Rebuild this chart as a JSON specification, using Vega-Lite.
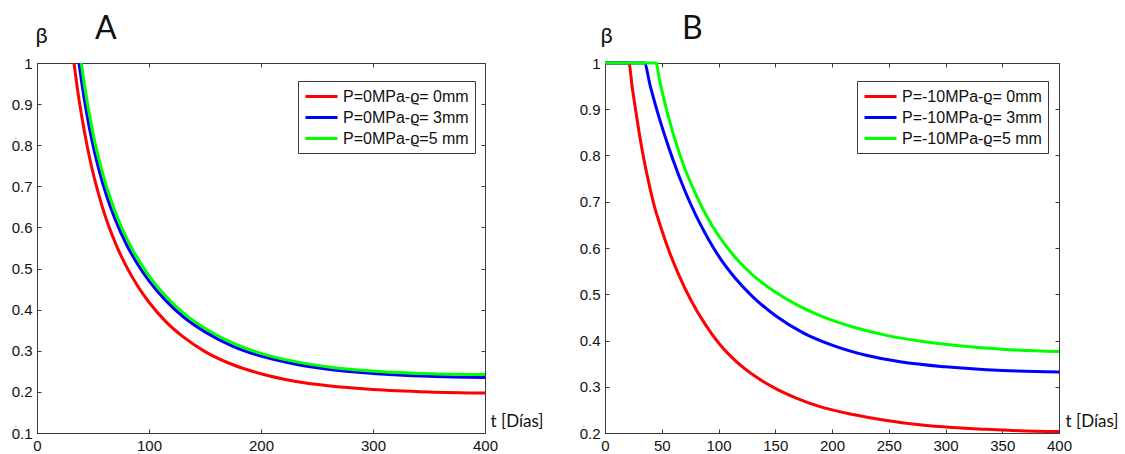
{
  "$schema": "https://vega.github.io/schema/vega-lite/v6.json",
  "background": "white",
  "padding": {"left": 10, "top": 12, "right": 2, "bottom": 2},
  "config": {
    "font": "Liberation Sans",
    "view": {"stroke": "#3a3a3a", "strokeWidth": 1},
    "axis": {"grid": false, "domain": false, "tickColor": "#3a3a3a", "tickSize": -4, "labelPadding": 9, "labelFontSize": 15, "labelFont": "Liberation Sans", "labelColor": "#111111", "labelFlush": false, "labelOverlap": false, "titleFont": "Lato", "titleFontWeight": "normal", "titleColor": "#111111"},
    "legend": {"orient": "none", "strokeColor": "#3a3a3a", "fillColor": "white", "padding": 6, "symbolType": "M-2,0H2", "symbolStrokeWidth": 3, "symbolSize": 256, "symbolOffset": 8, "labelFontSize": 16, "labelFont": "Liberation Sans", "labelColor": "#111111", "rowPadding": 3, "labelOffset": 12, "cornerRadius": 0},
    "title": {"font": "Lato", "fontWeight": "normal", "fontSize": 32, "color": "#111111", "anchor": "start", "frame": "group"}
  },
  "datasets": {
    "A": [
      {"s": "P=0MPa-ϱ= 0mm", "t": 33, "b": 1},
      {"s": "P=0MPa-ϱ= 0mm", "t": 36, "b": 0.939},
      {"s": "P=0MPa-ϱ= 0mm", "t": 40, "b": 0.869},
      {"s": "P=0MPa-ϱ= 0mm", "t": 45, "b": 0.795},
      {"s": "P=0MPa-ϱ= 0mm", "t": 50, "b": 0.733},
      {"s": "P=0MPa-ϱ= 0mm", "t": 55, "b": 0.681},
      {"s": "P=0MPa-ϱ= 0mm", "t": 60, "b": 0.635},
      {"s": "P=0MPa-ϱ= 0mm", "t": 70, "b": 0.562},
      {"s": "P=0MPa-ϱ= 0mm", "t": 80, "b": 0.504},
      {"s": "P=0MPa-ϱ= 0mm", "t": 90, "b": 0.457},
      {"s": "P=0MPa-ϱ= 0mm", "t": 100, "b": 0.418},
      {"s": "P=0MPa-ϱ= 0mm", "t": 115, "b": 0.371},
      {"s": "P=0MPa-ϱ= 0mm", "t": 130, "b": 0.335},
      {"s": "P=0MPa-ϱ= 0mm", "t": 150, "b": 0.298},
      {"s": "P=0MPa-ϱ= 0mm", "t": 175, "b": 0.266},
      {"s": "P=0MPa-ϱ= 0mm", "t": 200, "b": 0.244},
      {"s": "P=0MPa-ϱ= 0mm", "t": 230, "b": 0.226},
      {"s": "P=0MPa-ϱ= 0mm", "t": 260, "b": 0.215},
      {"s": "P=0MPa-ϱ= 0mm", "t": 300, "b": 0.206},
      {"s": "P=0MPa-ϱ= 0mm", "t": 350, "b": 0.2},
      {"s": "P=0MPa-ϱ= 0mm", "t": 400, "b": 0.197},
      {"s": "P=0MPa-ϱ= 3mm", "t": 37.5, "b": 1},
      {"s": "P=0MPa-ϱ= 3mm", "t": 40, "b": 0.951},
      {"s": "P=0MPa-ϱ= 3mm", "t": 44, "b": 0.883},
      {"s": "P=0MPa-ϱ= 3mm", "t": 49, "b": 0.812},
      {"s": "P=0MPa-ϱ= 3mm", "t": 55, "b": 0.743},
      {"s": "P=0MPa-ϱ= 3mm", "t": 62, "b": 0.678},
      {"s": "P=0MPa-ϱ= 3mm", "t": 70, "b": 0.618},
      {"s": "P=0MPa-ϱ= 3mm", "t": 80, "b": 0.558},
      {"s": "P=0MPa-ϱ= 3mm", "t": 90, "b": 0.51},
      {"s": "P=0MPa-ϱ= 3mm", "t": 100, "b": 0.47},
      {"s": "P=0MPa-ϱ= 3mm", "t": 115, "b": 0.422},
      {"s": "P=0MPa-ϱ= 3mm", "t": 130, "b": 0.384},
      {"s": "P=0MPa-ϱ= 3mm", "t": 150, "b": 0.346},
      {"s": "P=0MPa-ϱ= 3mm", "t": 175, "b": 0.311},
      {"s": "P=0MPa-ϱ= 3mm", "t": 200, "b": 0.287},
      {"s": "P=0MPa-ϱ= 3mm", "t": 230, "b": 0.268},
      {"s": "P=0MPa-ϱ= 3mm", "t": 260, "b": 0.255},
      {"s": "P=0MPa-ϱ= 3mm", "t": 300, "b": 0.245},
      {"s": "P=0MPa-ϱ= 3mm", "t": 350, "b": 0.238},
      {"s": "P=0MPa-ϱ= 3mm", "t": 400, "b": 0.235},
      {"s": "P=0MPa-ϱ=5 mm", "t": 39.5, "b": 1},
      {"s": "P=0MPa-ϱ=5 mm", "t": 42, "b": 0.953},
      {"s": "P=0MPa-ϱ=5 mm", "t": 46, "b": 0.887},
      {"s": "P=0MPa-ϱ=5 mm", "t": 51, "b": 0.816},
      {"s": "P=0MPa-ϱ=5 mm", "t": 57, "b": 0.748},
      {"s": "P=0MPa-ϱ=5 mm", "t": 64, "b": 0.683},
      {"s": "P=0MPa-ϱ=5 mm", "t": 72, "b": 0.623},
      {"s": "P=0MPa-ϱ=5 mm", "t": 82, "b": 0.563},
      {"s": "P=0MPa-ϱ=5 mm", "t": 92, "b": 0.515},
      {"s": "P=0MPa-ϱ=5 mm", "t": 102, "b": 0.475},
      {"s": "P=0MPa-ϱ=5 mm", "t": 117, "b": 0.427},
      {"s": "P=0MPa-ϱ=5 mm", "t": 132, "b": 0.389},
      {"s": "P=0MPa-ϱ=5 mm", "t": 152, "b": 0.351},
      {"s": "P=0MPa-ϱ=5 mm", "t": 177, "b": 0.316},
      {"s": "P=0MPa-ϱ=5 mm", "t": 202, "b": 0.292},
      {"s": "P=0MPa-ϱ=5 mm", "t": 232, "b": 0.273},
      {"s": "P=0MPa-ϱ=5 mm", "t": 262, "b": 0.26},
      {"s": "P=0MPa-ϱ=5 mm", "t": 302, "b": 0.25},
      {"s": "P=0MPa-ϱ=5 mm", "t": 352, "b": 0.244},
      {"s": "P=0MPa-ϱ=5 mm", "t": 400, "b": 0.242}
    ],
    "B": [
      {"s": "P=-10MPa-ϱ= 0mm", "t": 0, "b": 1},
      {"s": "P=-10MPa-ϱ= 0mm", "t": 21, "b": 1},
      {"s": "P=-10MPa-ϱ= 0mm", "t": 24, "b": 0.947},
      {"s": "P=-10MPa-ϱ= 0mm", "t": 27, "b": 0.898},
      {"s": "P=-10MPa-ϱ= 0mm", "t": 30, "b": 0.851},
      {"s": "P=-10MPa-ϱ= 0mm", "t": 34, "b": 0.795},
      {"s": "P=-10MPa-ϱ= 0mm", "t": 38.5, "b": 0.742},
      {"s": "P=-10MPa-ϱ= 0mm", "t": 43.3, "b": 0.692},
      {"s": "P=-10MPa-ϱ= 0mm", "t": 50, "b": 0.639},
      {"s": "P=-10MPa-ϱ= 0mm", "t": 56.5, "b": 0.593},
      {"s": "P=-10MPa-ϱ= 0mm", "t": 65, "b": 0.542},
      {"s": "P=-10MPa-ϱ= 0mm", "t": 75.5, "b": 0.488},
      {"s": "P=-10MPa-ϱ= 0mm", "t": 88, "b": 0.436},
      {"s": "P=-10MPa-ϱ= 0mm", "t": 101, "b": 0.392},
      {"s": "P=-10MPa-ϱ= 0mm", "t": 116, "b": 0.354},
      {"s": "P=-10MPa-ϱ= 0mm", "t": 133, "b": 0.3215},
      {"s": "P=-10MPa-ϱ= 0mm", "t": 150, "b": 0.2965},
      {"s": "P=-10MPa-ϱ= 0mm", "t": 168, "b": 0.276},
      {"s": "P=-10MPa-ϱ= 0mm", "t": 188, "b": 0.258},
      {"s": "P=-10MPa-ϱ= 0mm", "t": 218.6, "b": 0.24},
      {"s": "P=-10MPa-ϱ= 0mm", "t": 248, "b": 0.227},
      {"s": "P=-10MPa-ϱ= 0mm", "t": 277, "b": 0.218},
      {"s": "P=-10MPa-ϱ= 0mm", "t": 306, "b": 0.212},
      {"s": "P=-10MPa-ϱ= 0mm", "t": 336, "b": 0.208},
      {"s": "P=-10MPa-ϱ= 0mm", "t": 365, "b": 0.205},
      {"s": "P=-10MPa-ϱ= 0mm", "t": 400, "b": 0.203},
      {"s": "P=-10MPa-ϱ= 3mm", "t": 0, "b": 1},
      {"s": "P=-10MPa-ϱ= 3mm", "t": 34.6, "b": 1},
      {"s": "P=-10MPa-ϱ= 3mm", "t": 40, "b": 0.949},
      {"s": "P=-10MPa-ϱ= 3mm", "t": 46, "b": 0.896},
      {"s": "P=-10MPa-ϱ= 3mm", "t": 52, "b": 0.848},
      {"s": "P=-10MPa-ϱ= 3mm", "t": 60, "b": 0.79},
      {"s": "P=-10MPa-ϱ= 3mm", "t": 70, "b": 0.726},
      {"s": "P=-10MPa-ϱ= 3mm", "t": 80, "b": 0.671},
      {"s": "P=-10MPa-ϱ= 3mm", "t": 90, "b": 0.624},
      {"s": "P=-10MPa-ϱ= 3mm", "t": 100, "b": 0.583},
      {"s": "P=-10MPa-ϱ= 3mm", "t": 115, "b": 0.534},
      {"s": "P=-10MPa-ϱ= 3mm", "t": 130, "b": 0.495},
      {"s": "P=-10MPa-ϱ= 3mm", "t": 150, "b": 0.454},
      {"s": "P=-10MPa-ϱ= 3mm", "t": 175, "b": 0.416},
      {"s": "P=-10MPa-ϱ= 3mm", "t": 200, "b": 0.39},
      {"s": "P=-10MPa-ϱ= 3mm", "t": 230, "b": 0.368},
      {"s": "P=-10MPa-ϱ= 3mm", "t": 260, "b": 0.354},
      {"s": "P=-10MPa-ϱ= 3mm", "t": 300, "b": 0.343},
      {"s": "P=-10MPa-ϱ= 3mm", "t": 350, "b": 0.335},
      {"s": "P=-10MPa-ϱ= 3mm", "t": 400, "b": 0.332},
      {"s": "P=-10MPa-ϱ=5 mm", "t": 0, "b": 1},
      {"s": "P=-10MPa-ϱ=5 mm", "t": 45, "b": 1},
      {"s": "P=-10MPa-ϱ=5 mm", "t": 48, "b": 0.964},
      {"s": "P=-10MPa-ϱ=5 mm", "t": 52, "b": 0.921},
      {"s": "P=-10MPa-ϱ=5 mm", "t": 57, "b": 0.874},
      {"s": "P=-10MPa-ϱ=5 mm", "t": 63, "b": 0.824},
      {"s": "P=-10MPa-ϱ=5 mm", "t": 70, "b": 0.774},
      {"s": "P=-10MPa-ϱ=5 mm", "t": 80, "b": 0.716},
      {"s": "P=-10MPa-ϱ=5 mm", "t": 90, "b": 0.667},
      {"s": "P=-10MPa-ϱ=5 mm", "t": 100, "b": 0.627},
      {"s": "P=-10MPa-ϱ=5 mm", "t": 115, "b": 0.579},
      {"s": "P=-10MPa-ϱ=5 mm", "t": 130, "b": 0.542},
      {"s": "P=-10MPa-ϱ=5 mm", "t": 150, "b": 0.505},
      {"s": "P=-10MPa-ϱ=5 mm", "t": 170, "b": 0.476},
      {"s": "P=-10MPa-ϱ=5 mm", "t": 190, "b": 0.453},
      {"s": "P=-10MPa-ϱ=5 mm", "t": 220, "b": 0.428},
      {"s": "P=-10MPa-ϱ=5 mm", "t": 250, "b": 0.41},
      {"s": "P=-10MPa-ϱ=5 mm", "t": 280, "b": 0.398},
      {"s": "P=-10MPa-ϱ=5 mm", "t": 310, "b": 0.389},
      {"s": "P=-10MPa-ϱ=5 mm", "t": 350, "b": 0.381},
      {"s": "P=-10MPa-ϱ=5 mm", "t": 400, "b": 0.376}
    ]
  },
  "spacing": 120,
  "bounds": "flush",
  "resolve": {"scale": {"color": "independent"}, "legend": {"color": "independent"}},
  "hconcat": [
    {
      "width": 448,
      "height": 370,
      "title": {"text": "A", "dx": 58, "dy": 47, "baseline": "alphabetic", "offset": 0},
      "data": {"name": "A"},
      "resolve": {"axis": {"x": "independent", "y": "independent"}},
      "layer": [
        {
          "mark": {"type": "line", "strokeWidth": 3, "interpolate": "monotone", "clip": false},
          "encoding": {
            "x": {"field": "t", "type": "quantitative", "scale": {"domain": [0, 400], "nice": false, "zero": false},
                  "axis": {"values": [0, 100, 200, 300, 400], "title": "t [Días]", "titleFontSize": 17, "titleAngle": 0, "titleAlign": "left", "titleBaseline": "alphabetic", "titleX": 453, "titleY": -7}},
            "y": {"field": "b", "type": "quantitative", "scale": {"domain": [0.1, 1], "nice": false, "zero": false},
                  "axis": {"values": [0.1, 0.2, 0.3, 0.4, 0.5, 0.6, 0.7, 0.8, 0.9, 1], "format": "~g", "title": "β", "titleFontSize": 22, "titleAngle": 0, "titleAlign": "center", "titleBaseline": "alphabetic", "titleX": 4, "titleY": -21}},
            "color": {"field": "s", "type": "nominal", "scale": {"domain": ["P=0MPa-ϱ= 0mm", "P=0MPa-ϱ= 3mm", "P=0MPa-ϱ=5 mm"], "range": ["#ff0000", "#0000ff", "#00ff00"]},
                      "legend": {"title": null, "legendX": 261, "legendY": 18}}
          }
        },
        {
          "mark": {"type": "point", "opacity": 0},
          "encoding": {
            "x": {"field": "t", "type": "quantitative", "axis": {"orient": "top", "values": [0, 100, 200, 300, 400], "labels": false, "title": null}},
            "y": {"field": "b", "type": "quantitative", "axis": {"orient": "right", "values": [0.1, 0.2, 0.3, 0.4, 0.5, 0.6, 0.7, 0.8, 0.9, 1], "labels": false, "title": null}}
          }
        }
      ]
    },
    {
      "width": 454,
      "height": 370,
      "title": {"text": "B", "dx": 77, "dy": 47, "baseline": "alphabetic", "offset": 0},
      "data": {"name": "B"},
      "resolve": {"axis": {"x": "independent", "y": "independent"}},
      "layer": [
        {
          "mark": {"type": "line", "strokeWidth": 3, "interpolate": "monotone", "clip": false},
          "encoding": {
            "x": {"field": "t", "type": "quantitative", "scale": {"domain": [0, 400], "nice": false, "zero": false},
                  "axis": {"values": [0, 50, 100, 150, 200, 250, 300, 350, 400], "title": "t [Días]", "titleFontSize": 17, "titleAngle": 0, "titleAlign": "left", "titleBaseline": "alphabetic", "titleX": 460, "titleY": -7}},
            "y": {"field": "b", "type": "quantitative", "scale": {"domain": [0.2, 1], "nice": false, "zero": false},
                  "axis": {"values": [0.2, 0.3, 0.4, 0.5, 0.6, 0.7, 0.8, 0.9, 1], "format": "~g", "title": "β", "titleFontSize": 22, "titleAngle": 0, "titleAlign": "center", "titleBaseline": "alphabetic", "titleX": 1, "titleY": -21}},
            "color": {"field": "s", "type": "nominal", "scale": {"domain": ["P=-10MPa-ϱ= 0mm", "P=-10MPa-ϱ= 3mm", "P=-10MPa-ϱ=5 mm"], "range": ["#ff0000", "#0000ff", "#00ff00"]},
                      "legend": {"title": null, "legendX": 252, "legendY": 18}}
          }
        },
        {
          "mark": {"type": "point", "opacity": 0},
          "encoding": {
            "x": {"field": "t", "type": "quantitative", "axis": {"orient": "top", "values": [0, 50, 100, 150, 200, 250, 300, 350, 400], "labels": false, "title": null}},
            "y": {"field": "b", "type": "quantitative", "axis": {"orient": "right", "values": [0.2, 0.3, 0.4, 0.5, 0.6, 0.7, 0.8, 0.9, 1], "labels": false, "title": null}}
          }
        }
      ]
    }
  ]
}
